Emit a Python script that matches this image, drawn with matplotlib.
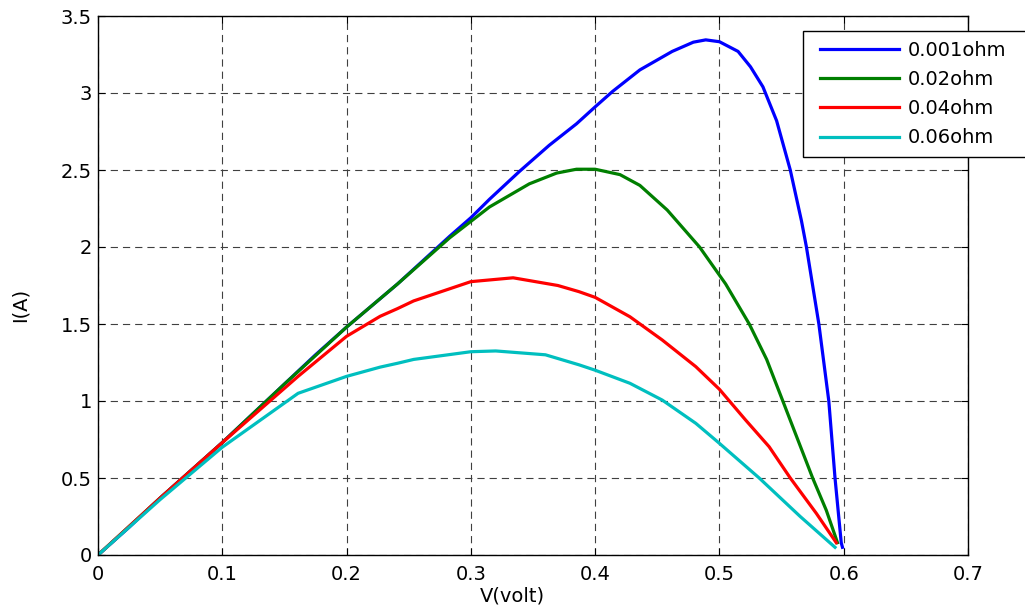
import matplotlib
matplotlib.use("Agg")
import matplotlib.pyplot as plt
from matplotlib.patches import Rectangle

plt.rcParams['font.family'] = ['DejaVu Sans']

labels = ["0.001ohm", "0.02ohm", "0.04ohm", "0.06ohm"]
colors = ["#0000ff", "#007f00", "#ff0000", "#00bfbf"]

v_001 = [0, 0.025, 0.05, 0.075, 0.1, 0.125, 0.15, 0.175, 0.2, 0.241, 0.283, 0.300,
         0.315, 0.339, 0.363, 0.385, 0.400, 0.414, 0.436, 0.462, 0.479, 0.489,
         0.500, 0.515, 0.525, 0.535, 0.546, 0.557, 0.566, 0.570, 0.580, 0.588,
         0.593, 0.598, 0.599]
i_001 = [0, 0.18, 0.37, 0.55, 0.73, 0.92, 1.11, 1.30, 1.48, 1.76, 2.07, 2.19,
         2.31, 2.49, 2.66, 2.80, 2.91, 3.01, 3.15, 3.27, 3.33, 3.345,
         3.333, 3.27, 3.17, 3.04, 2.82, 2.5, 2.17, 2.0, 1.5, 1.0,
         0.5, 0.08, 0.05]

v_002 = [0, 0.05, 0.1, 0.15, 0.2, 0.241, 0.283, 0.315, 0.347, 0.369, 0.385,
         0.400, 0.420, 0.436, 0.458, 0.484, 0.505, 0.524, 0.538, 0.551, 0.575,
         0.586, 0.595]
i_002 = [0, 0.37, 0.73, 1.11, 1.48, 1.76, 2.06, 2.26, 2.41, 2.48, 2.505,
         2.505, 2.47, 2.40, 2.24, 2.0, 1.76, 1.5, 1.27, 1.0, 0.5,
         0.29, 0.08]

v_004 = [0, 0.05, 0.1, 0.161, 0.2, 0.227, 0.241, 0.254, 0.3, 0.334, 0.37, 0.387,
         0.400, 0.428, 0.454, 0.481, 0.500, 0.521, 0.540, 0.557, 0.578, 0.594]
i_004 = [0, 0.37, 0.73, 1.16, 1.42, 1.55, 1.60, 1.65, 1.775, 1.80, 1.75, 1.71,
         1.673, 1.547, 1.396, 1.223, 1.076, 0.877, 0.703, 0.5, 0.27, 0.08]

v_006 = [0, 0.05, 0.1, 0.161, 0.2, 0.227, 0.241, 0.254, 0.3, 0.32, 0.36, 0.387,
         0.400, 0.428, 0.454, 0.481, 0.500, 0.532, 0.565, 0.593]
i_006 = [0, 0.36, 0.70, 1.05, 1.16, 1.22, 1.245, 1.27, 1.32, 1.325, 1.30, 1.235,
         1.20, 1.115, 1.006, 0.855, 0.725, 0.5, 0.25, 0.05]

xticks = [0, 0.1, 0.2, 0.3, 0.4, 0.5, 0.6, 0.7]
xticklabels = ["0", "0.1", "0.2", "0.3", "0.4", "0.5", "0.6", "0.7"]
yticks = [0, 0.5, 1, 1.5, 2, 2.5, 3, 3.5]
yticklabels = ["0", "0.5", "1", "1.5", "2", "2.5", "3", "3.5"]

W, H = 1025, 610
fig = plt.figure(figsize=(W / 100, H / 100), dpi=100)
ax = fig.add_axes([98 / W, 55 / H, 870 / W, 539 / H])

series = [(v_001, i_001), (v_002, i_002), (v_004, i_004), (v_006, i_006)]
for (v, i), c, lab in zip(series, colors, labels):
    ax.plot(v, i, color=c, lw=2.3, label=lab, solid_joinstyle='round')

ax.set_xlim(0, 0.7)
ax.set_ylim(0, 3.5)
ax.set_xticks(xticks)
ax.set_xticklabels(xticklabels)
ax.set_yticks(yticks)
ax.set_yticklabels(yticklabels)
ax.tick_params(direction='in', top=True, right=True, labelsize=14, length=5,
               width=0.8)
ax.tick_params(axis='x', pad=7)
ax.tick_params(axis='y', pad=4.5)
ax.grid(True, linestyle=(0, (6.5, 4.5)), color='#404040', linewidth=0.8)
for s in ax.spines.values():
    s.set_linewidth(1.0)
    s.set_color('black')

ax.set_xlabel("V(volt)", fontsize=14)
ax.xaxis.set_label_coords(0.5, 1 - 586 / H, transform=fig.transFigure)
ax.set_ylabel("I(A)", fontsize=14)
ax.yaxis.set_label_coords(30 / W, 0.5, transform=fig.transFigure)

# legend frame (extends past the right edge of the figure, as in the reference)
frame = Rectangle((803 / W, 1 - 156.7 / H), 240 / W, 126 / H,
                  transform=fig.transFigure, facecolor='white',
                  edgecolor='black', linewidth=1.0, zorder=4.5, clip_on=False)
ax.add_patch(frame)
leg = ax.legend(loc='upper left', bbox_to_anchor=(820 / W, 1 - 41 / H),
                bbox_transform=fig.transFigure, fontsize=14, frameon=False,
                handlelength=4.06, labelspacing=0.52, borderpad=0,
                handletextpad=0.45, borderaxespad=0)
leg.set_zorder(6)
for ln in leg.get_lines():
    ln.set_linewidth(2.3)

fig.savefig("out.png", dpi=100)
